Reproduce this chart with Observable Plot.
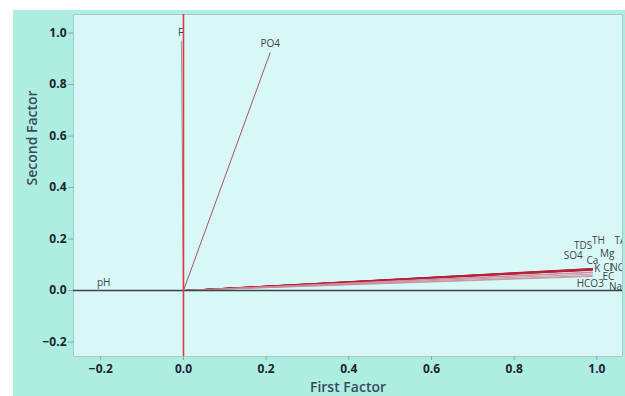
<!DOCTYPE html>
<html>
<head>
<meta charset="utf-8">
<script src="https://cdn.jsdelivr.net/npm/d3@7"></script>
<script src="https://cdn.jsdelivr.net/npm/@observablehq/plot@0.6"></script>
<style>
  html, body { margin: 0; padding: 0; background: #ffffff; }
  #wrap { padding: 10px 0 0 13px; width: 612px; height: 386px; }
  svg { display: block; }
</style>
</head>
<body>
<div id="wrap"></div>
<script>
// Variables (loading vectors)
const variables = ["F", "PO4", "pH", "TH", "TA", "TDS", "Mg", "SO4", "Ca", "K", "Cl", "NO3", "EC", "HCO3", "Na"];
// First-factor loadings
const firstFactor = [-0.005, 0.21, -0.20, 0.99, 0.99, 0.99, 0.99, 0.99, 0.99, 0.99, 0.99, 0.99, 0.99, 0.99, 0.99];
// Second-factor loadings
const secondFactor = [0.97, 0.925, 0.0, 0.086, 0.084, 0.085, 0.083, 0.081, 0.080, 0.079, 0.072, 0.070, 0.064, 0.058, 0.055];
// Label anchor points (data units)
const labelFirst = [-0.007, 0.21, -0.193, 1.004, 1.057, 0.967, 1.025, 0.943, 0.989, 1.001, 1.026, 1.058, 1.028, 0.984, 1.045];
const labelSecond = [1.002, 0.959, 0.031, 0.194, 0.194, 0.175, 0.144, 0.136, 0.117, 0.085, 0.087, 0.087, 0.054, 0.027, 0.016];
const xTicks = [-0.2, 0.0, 0.2, 0.4, 0.6, 0.8, 1.0];
const yTicks = [-0.2, 0.0, 0.2, 0.4, 0.6, 0.8, 1.0];

const vectors = variables.map((name, i) => ({
  name, x: firstFactor[i], y: secondFactor[i], lx: labelFirst[i], ly: labelSecond[i]
}));

const lineColor = (d) => d.name === "F" ? "#9a8a90"
  : d.name === "PO4" ? "#a04050"
  : d.name === "pH" ? "#404848"
  : d.y > 0.075 ? "#b8203c" : "#c88c98";

const chart = Plot.plot({
  width: 612,
  height: 386,
  marginLeft: 60,
  marginRight: 3,
  marginTop: 4,
  marginBottom: 40,
  style: { background: "#aeeee0", fontFamily: "'Open Sans', 'Noto Sans', sans-serif", overflow: "visible" },
  x: { domain: [-0.266, 1.062], ticks: xTicks, tickFormat: d3.format(".1f"), label: null },
  y: { domain: [-0.256, 1.072], ticks: yTicks, tickFormat: d3.format(".1f"), label: null },
  marks: [
    Plot.frame({ fill: "#d8f8f8", stroke: "#a8c8c8", strokeWidth: 1 }),
    Plot.link(vectors, {
      x1: 0, y1: 0, x2: "x", y2: "y",
      stroke: lineColor,
      strokeWidth: (d) => d.y > 0.075 && d.y < 0.5 ? 1.0 : 0.9,
      sort: (d) => -d.y
    }),
    Plot.ruleY([0], { stroke: "#3a4444", strokeWidth: 1.4 }),
    Plot.ruleX([0], { stroke: "#e03a3a", strokeWidth: 1.6 }),
    Plot.text(vectors, {
      x: "lx", y: "ly", text: "name",
      fontSize: 10, fill: "#3e4444", textAnchor: "middle", clip: true
    }),
    Plot.axisX({
      ticks: xTicks, tickFormat: d3.format(".1f"), tickSize: 4, tickPadding: 4,
      stroke: "#8aa8a8", fill: "#1e2430", fontSize: 12, fontWeight: "bold", label: null
    }),
    Plot.axisY({
      ticks: yTicks, tickFormat: d3.format(".1f"), tickSize: 5, tickPadding: 2,
      stroke: "#8aa8a8", fill: "#1e2430", fontSize: 12, fontWeight: "bold", label: null
    }),
    Plot.text(["First Factor"], {
      frameAnchor: "bottom", dy: 35, text: (d) => d,
      fontSize: 14, fontWeight: 600, fill: "#3a4a5e"
    }),
    Plot.text(["Second Factor"], {
      frameAnchor: "left", dx: -41, rotate: -90, text: (d) => d,
      fontSize: 14, fontWeight: 600, fill: "#3a4a5e"
    })
  ]
});

document.getElementById("wrap").appendChild(chart);
</script>
</body>
</html>
